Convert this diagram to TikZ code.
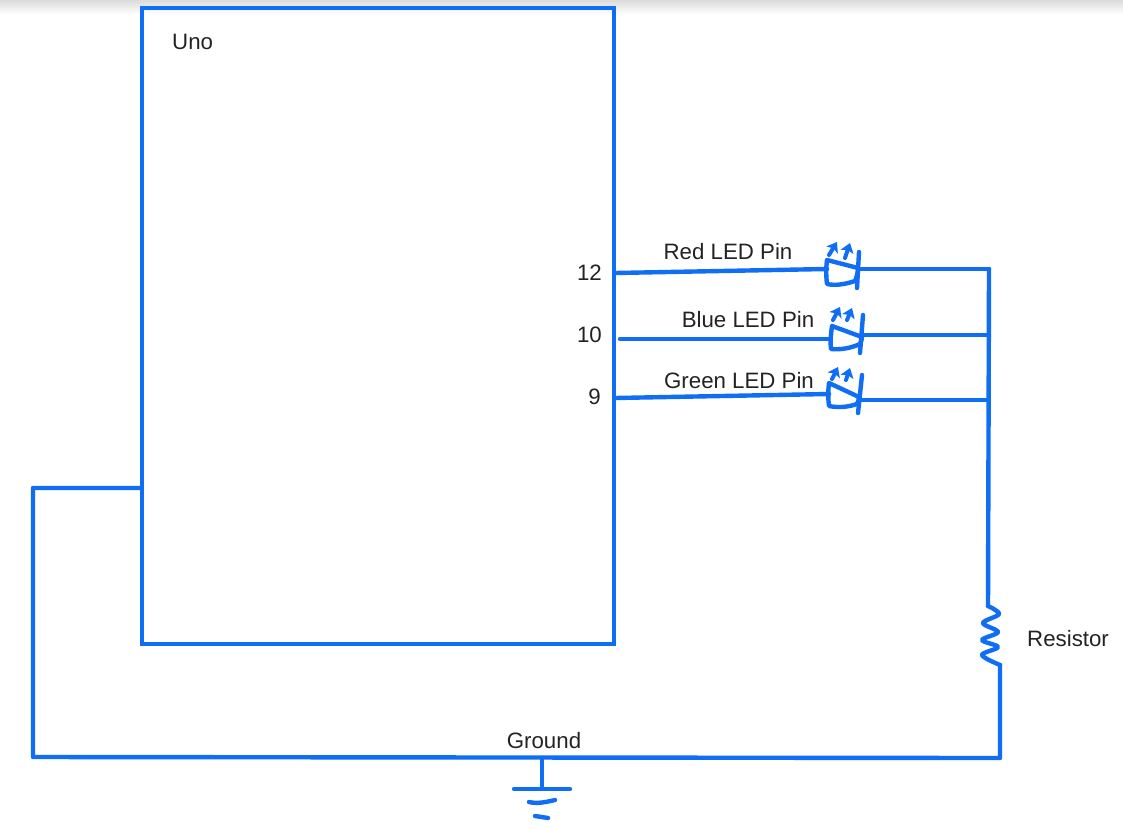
\documentclass[tikz,border=0pt]{standalone}
\usepackage{fontspec}
\setmainfont{Liberation Sans}
\usetikzlibrary{arrows.meta}
\definecolor{wireblue}{RGB}{16,110,245}
\definecolor{labelgray}{RGB}{35,35,35}
\tikzset{every picture/.style={line width=3.3pt}}
\tikzset{wire/.style={draw=wireblue,line width=3.3pt,line join=round,line cap=round},
  ledpen/.style={draw=wireblue,line width=3.3pt,line join=round,line cap=round},
  ledray/.style={draw=wireblue,line width=3pt,line cap=round,-{Stealth[length=7pt,width=10pt,inset=1.5pt]}},
  txt/.style={inner sep=0pt,text=labelgray,font=\fontsize{16.7}{19}\selectfont}}

\begin{document}
\begin{tikzpicture}[x=0.75pt,y=0.75pt,yscale=-1,xscale=1]
\useasboundingbox (0,0) rectangle (1123,828);

%Shape: top shadow
\path [top color=black!14,bottom color=white,draw=none] (0,0) rectangle (1123,14);

%Shape: Uno board
\node (uno) [anchor=north west,draw=wireblue,line width=3.3pt,outer sep=0pt,inner sep=0pt,minimum width=354pt,minimum height=477pt] at (142,8) {};

%Coordinates: wire ends
\coordinate (pinR) at (615,273);
\coordinate (pinB) at (620,339);
\coordinate (pinG) at (615,398);
\coordinate (ledRin) at (827,269);
\coordinate (ledBin) at (831,339);
\coordinate (ledGin) at (829,394);
\coordinate (ledRout) at (858,269);
\coordinate (ledBout) at (862,335);
\coordinate (ledGout) at (860,400);
\coordinate (busR) at (989,269);
\coordinate (busB) at (989,335);
\coordinate (busG) at (989,400);
\coordinate (resTop) at (988,606);
\coordinate (resEnd) at (1000,665);
\coordinate (gndR) at (1000,758);
\coordinate (gndL) at (33,757);
\coordinate (gndUp) at (33,488);
\coordinate (unoGnd) at (142,488);
\coordinate (gndTap) at (542,758);
\coordinate (gndBar) at (542,789);

%Straight Lines: pins to LEDs
\draw [wire] (pinR) -- (ledRin);
\draw [wire] (pinB) -- (ledBin);
\draw [wire] (pinG) -- (ledGin);
\draw [wire] (ledRout) -- (busR);
\draw [wire] (ledBout) -- (busB);
\draw [wire] (ledGout) -- (busG);
\draw [wire] (busR) -- (resTop);

%Shape: Red LED
\draw [ledpen] (827,260) .. controls (826,268) and (826,276) .. (827,284) .. controls (836,286) and (846,284) .. (855,281) .. controls (857,276) and (858,272) .. (858,268) -- cycle;
\draw [ledpen] (859,252) -- (857,288);
\draw [ledray] (829,255) -- (837,242);
\draw [ledray] (845,258) -- (850,243);
%Shape: Blue LED
\draw [ledpen] (832,326) .. controls (831,334) and (830,341) .. (831,349) .. controls (841,350) and (851,348) .. (860,344) .. controls (861,342) and (862,339) .. (862,337) -- cycle;
\draw [ledpen] (863,315) -- (860,353);
\draw [ledray] (833,320) -- (840,307);
\draw [ledray] (847,320) -- (852,308);
%Shape: Green LED
\draw [ledpen] (829,383) .. controls (828,391) and (828,398) .. (829,406) .. controls (839,408) and (848,407) .. (857,404) .. controls (858,402) and (859,399) .. (859,397) -- cycle;
\draw [ledpen] (862,375) -- (858,413);
\draw [ledray] (832,379) -- (838,367);
\draw [ledray] (846,380) -- (850,368);

%Shape: Resistor
\draw [wire] plot [smooth,tension=0.55] coordinates {(resTop) (999,614) (983,623) (998,632) (982,640) (998,647) (982,655) (resEnd)};

%Straight Lines: ground return
\draw [wire] (resEnd) -- (gndR) -- (gndL) -- (gndUp) -- (unoGnd);
\draw [wire] (gndTap) -- (gndBar);

%Shape: Ground symbol
\draw [wire] (514,789) -- (570,789);
\draw [wire] (529,802) .. controls (538,804) and (546,802) .. (555,800);
\draw [wire] (535,816) -- (548,818);

% Text Node
\node (unoLbl) [txt,anchor=west] at (170,42) {Uno};
\node (pin12) [txt,anchor=east] at (604,273) {12};
\node (pin10) [txt,anchor=east] at (604,335) {10};
\node (pin9) [txt,anchor=east] at (603,397) {9};
\node (redLbl) [txt] at (728,252) {Red LED Pin};
\node (blueLbl) [txt] at (748,320) {Blue LED Pin};
\node (greenLbl) [txt] at (739,381) {Green LED Pin};
\node (resLbl) [txt,anchor=west] at (1025,639) {Resistor};
\node (gndLbl) [txt] at (544,741) {Ground};

\end{tikzpicture}
\end{document}
